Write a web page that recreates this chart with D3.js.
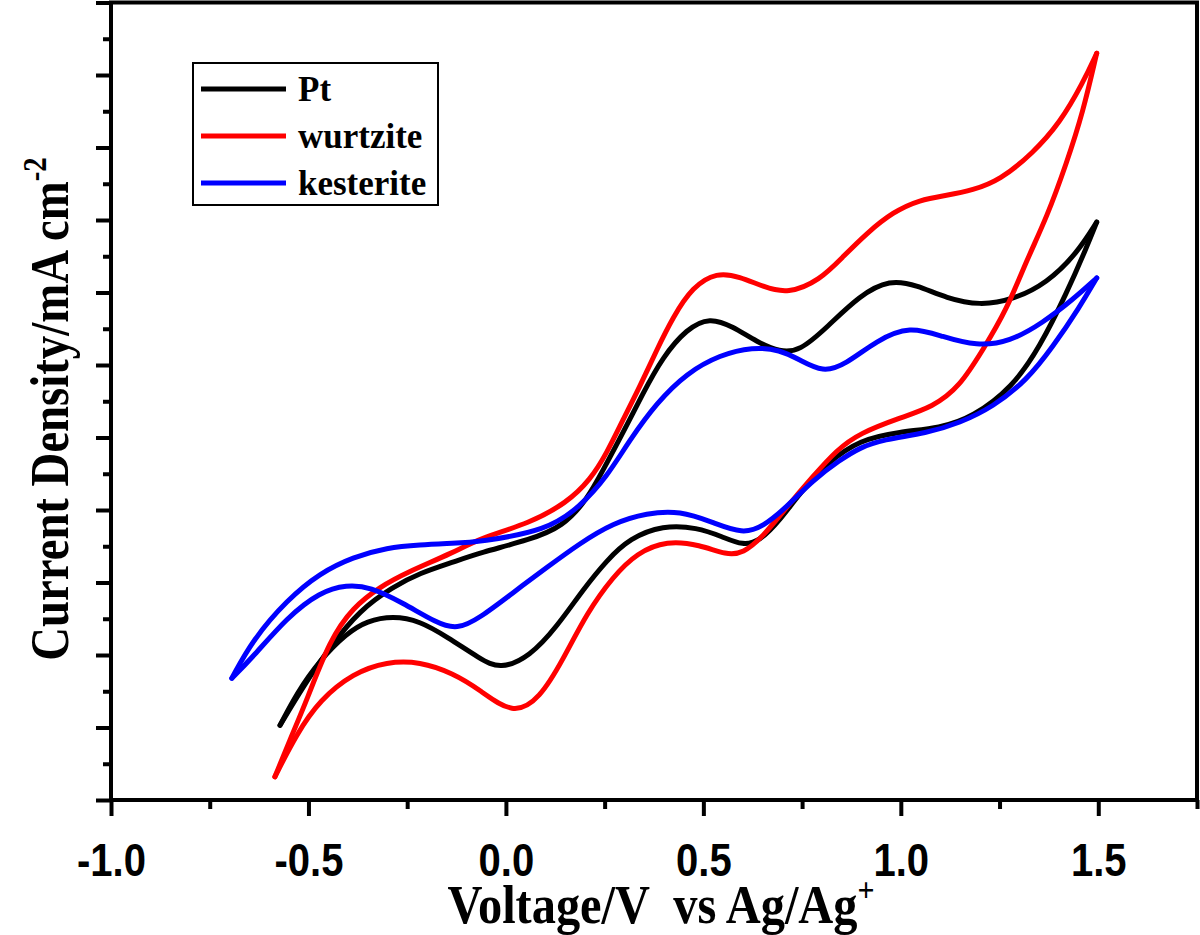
<!DOCTYPE html>
<html>
<head>
<meta charset="utf-8">
<script src="https://cdn.jsdelivr.net/npm/d3@7"></script>
<style>
  body { margin: 0; background: #fff; }
  svg { display: block; }
</style>
</head>
<body>
<div id="chart"></div>
<script>
// ---
// Data: [voltage (V vs Ag/Ag+), current density (arbitrary, one unit per major tick)]
// ---
const seriesNames = ['Pt', 'wurtzite', 'kesterite']

// forward scan (upper branch), left end -> 1.5 V
const ptUpper = [
  [-0.572, 1.03], [-0.514, 1.56], [-0.446, 2.11], [-0.370, 2.62], [-0.286, 2.94],
  [-0.218, 3.13], [-0.134, 3.28], [-0.066, 3.41], [0.061, 3.59], [0.144, 3.77],
  [0.205, 4.14], [0.246, 4.55], [0.296, 5.06], [0.347, 5.61], [0.397, 6.11],
  [0.458, 6.50], [0.516, 6.66], [0.575, 6.53], [0.635, 6.32], [0.694, 6.18],
  [0.744, 6.19], [0.813, 6.52], [0.896, 6.96], [0.972, 7.18], [1.041, 7.10],
  [1.116, 6.92], [1.200, 6.82], [1.284, 6.90], [1.370, 7.13], [1.446, 7.54],
  [1.496, 7.97]
]
// reverse scan (lower branch), 1.5 V -> left end
const ptLower = [
  [1.496, 7.97], [1.471, 7.63], [1.420, 6.99], [1.352, 6.25], [1.284, 5.70],
  [1.182, 5.28], [1.099, 5.13], [0.997, 5.08], [0.896, 4.97], [0.813, 4.65],
  [0.744, 4.23], [0.694, 3.86], [0.643, 3.57], [0.600, 3.51], [0.549, 3.63],
  [0.484, 3.76], [0.397, 3.79], [0.314, 3.61], [0.256, 3.31], [0.195, 2.90],
  [0.129, 2.39], [0.061, 1.98], [-0.015, 1.80], [-0.066, 1.95], [-0.149, 2.25],
  [-0.218, 2.47], [-0.286, 2.54], [-0.352, 2.47], [-0.403, 2.30], [-0.471, 1.93],
  [-0.529, 1.48], [-0.572, 1.03]
]

const wurtziteUpper = [
  [-0.585, 0.32], [-0.547, 0.83], [-0.504, 1.38], [-0.446, 2.21], [-0.387, 2.66],
  [-0.319, 2.94], [-0.251, 3.14], [-0.134, 3.41], [-0.066, 3.61], [0.061, 3.82],
  [0.154, 4.10], [0.213, 4.41], [0.256, 4.79], [0.296, 5.24], [0.339, 5.70],
  [0.382, 6.21], [0.423, 6.66], [0.473, 7.08], [0.534, 7.28], [0.592, 7.22],
  [0.651, 7.08], [0.714, 6.98], [0.795, 7.17], [0.853, 7.49], [0.914, 7.82],
  [0.980, 8.11], [1.048, 8.28], [1.116, 8.34], [1.182, 8.41], [1.251, 8.55],
  [1.334, 8.92], [1.403, 9.34], [1.461, 9.89], [1.496, 10.30]
]
const wurtziteLower = [
  [1.496, 10.30], [1.461, 9.48], [1.420, 8.79], [1.370, 8.04], [1.319, 7.45],
  [1.268, 6.76], [1.208, 6.21], [1.149, 5.70], [1.081, 5.42], [0.997, 5.27],
  [0.896, 5.06], [0.838, 4.83], [0.777, 4.46], [0.711, 4.04], [0.651, 3.63],
  [0.600, 3.40], [0.559, 3.38], [0.491, 3.52], [0.408, 3.58], [0.332, 3.41],
  [0.271, 3.08], [0.205, 2.58], [0.144, 1.93], [0.086, 1.40], [0.018, 1.17],
  [-0.066, 1.52], [-0.134, 1.75], [-0.218, 1.91], [-0.301, 1.91], [-0.387, 1.75],
  [-0.471, 1.38], [-0.529, 0.92], [-0.585, 0.32]
]

const kesteriteUpper = [
  [-0.694, 1.68], [-0.641, 2.21], [-0.554, 2.76], [-0.471, 3.13], [-0.387, 3.35],
  [-0.301, 3.48], [-0.218, 3.52], [-0.134, 3.54], [-0.066, 3.56], [0.104, 3.72],
  [0.187, 4.04], [0.256, 4.46], [0.314, 4.97], [0.382, 5.48], [0.458, 5.89],
  [0.542, 6.14], [0.625, 6.25], [0.694, 6.21], [0.744, 6.07], [0.803, 5.90],
  [0.858, 6.00], [0.939, 6.34], [1.023, 6.54], [1.106, 6.39], [1.192, 6.26],
  [1.276, 6.32], [1.359, 6.58], [1.435, 6.90], [1.496, 7.20]
]
const kesteriteLower = [
  [1.496, 7.20], [1.453, 6.80], [1.385, 6.25], [1.319, 5.79], [1.233, 5.42],
  [1.149, 5.20], [1.066, 5.06], [0.954, 4.97], [0.896, 4.86], [0.846, 4.69],
  [0.777, 4.41], [0.711, 4.04], [0.651, 3.77], [0.600, 3.67], [0.524, 3.83],
  [0.441, 3.99], [0.357, 3.96], [0.271, 3.82], [0.187, 3.54], [0.104, 3.21],
  [0.018, 2.86], [-0.066, 2.51], [-0.124, 2.35], [-0.175, 2.44], [-0.261, 2.72],
  [-0.344, 2.94], [-0.403, 2.97], [-0.471, 2.87], [-0.554, 2.52], [-0.641, 1.97],
  [-0.694, 1.68]
]

const xMajorTicks = [-1.0, -0.5, 0.0, 0.5, 1.0, 1.5]
const xMinorTicks = [-0.75, -0.25, 0.25, 0.75, 1.25, 1.75]
const xTickLabels = ['-1.0', '-0.5', '0.0', '0.5', '1.0', '1.5']
const yMajorTicks = [0, 1, 2, 3, 4, 5, 6, 7, 8, 9, 10, 11]
const yMinorTicks = [0.5, 1.5, 2.5, 3.5, 4.5, 5.5, 6.5, 7.5, 8.5, 9.5, 10.5]

const curves = [
  { name: 'Pt', branches: [ptUpper, ptLower] },
  { name: 'wurtzite', branches: [wurtziteUpper, wurtziteLower] },
  { name: 'kesterite', branches: [kesteriteUpper, kesteriteLower] }
]
const colors = { Pt: '#000000', wurtzite: '#ff0000', kesterite: '#0000ff' }

// ---
// Chart
// ---
const width = 1200
const height = 935
const sansFont = '"Liberation Sans", Arial, sans-serif'
const serifFont = '"Liberation Serif", "Times New Roman", serif'

const xScale = d3.scaleLinear()
  .domain([-1, 1.75])
  .range([111, 1197])

const yScale = d3.scaleLinear()
  .domain([0, 11])
  .range([800, 2.5])

const svg = d3.select('#chart').append('svg')
  .attr('width', width)
  .attr('height', height)

// Curves (smoothed, the traces in the figure have no visible kinks)
const line = d3.line()
  .x(d => xScale(d[0]))
  .y(d => yScale(d[1]))
  .curve(d3.curveBasis)

curves.forEach(c => {
  svg.append('g')
    .selectAll('path')
    .data(c.branches)
    .enter()
      .append('path')
      .attr('d', line)
      .attr('fill', 'none')
      .attr('stroke', colors[c.name])
      .attr('stroke-width', 5)
      .attr('stroke-linecap', 'round')
      .attr('stroke-linejoin', 'round')
})

// Axes
const xAxis = svg.append('g')
  .attr('transform', `translate(0, ${yScale(0)})`)
  .call(d3.axisBottom(xScale)
    .tickValues(xMajorTicks)
    .tickSize(16)
    .tickPadding(27)
    .tickFormat((d, i) => xTickLabels[i]))

xAxis.selectAll('text')
  .attr('font-family', sansFont)
  .attr('font-weight', 'bold')
  .attr('font-size', 46)
  .attr('fill', '#000')
  .attr('transform', 'scale(0.87, 1)')

svg.append('g')
  .attr('transform', `translate(0, ${yScale(0)})`)
  .call(d3.axisBottom(xScale)
    .tickValues(xMinorTicks)
    .tickSize(9)
    .tickFormat(''))

svg.append('g')
  .attr('transform', `translate(${xScale(-1)}, 0)`)
  .call(d3.axisLeft(yScale)
    .tickValues(yMajorTicks)
    .tickSize(15)
    .tickFormat(''))

svg.append('g')
  .attr('transform', `translate(${xScale(-1)}, 0)`)
  .call(d3.axisLeft(yScale)
    .tickValues(yMinorTicks)
    .tickSize(8)
    .tickFormat(''))

svg.selectAll('.domain').remove()
svg.selectAll('.tick line')
  .attr('stroke', '#000')
  .attr('stroke-width', 4)

// Frame
svg.append('rect')
  .attr('x', xScale(-1))
  .attr('y', yScale(11))
  .attr('width', xScale(1.75) - xScale(-1))
  .attr('height', yScale(0) - yScale(11))
  .attr('fill', 'none')
  .attr('stroke', '#000')
  .attr('stroke-width', 4)

// Axis titles
const xTitle = svg.append('text')
  .attr('transform', 'translate(661, 923) scale(0.88, 1)')
  .attr('text-anchor', 'middle')
  .attr('font-family', serifFont)
  .attr('font-weight', 'bold')
  .attr('font-size', 55)
  .style('white-space', 'pre')
xTitle.append('tspan').text('Voltage/V  vs Ag/Ag')
xTitle.append('tspan').attr('dy', -22).attr('font-size', 34).text('+')

const yTitle = svg.append('text')
  .attr('transform', 'translate(68, 409) rotate(-90) scale(0.85, 1)')
  .attr('text-anchor', 'middle')
  .attr('font-family', serifFont)
  .attr('font-weight', 'bold')
  .attr('font-size', 55)
yTitle.append('tspan').text('Current Density/mA cm')
yTitle.append('tspan').attr('dy', -22).attr('font-size', 34).text('-2')

// Legend
const legend = svg.append('g')

legend.append('rect')
  .attr('x', 193)
  .attr('y', 63)
  .attr('width', 245)
  .attr('height', 142)
  .attr('fill', '#fff')
  .attr('stroke', '#000')
  .attr('stroke-width', 2)

const legendItems = legend.selectAll('.item')
    .data(seriesNames)
  .enter()
    .append('g')
    .attr('class', 'item')
    .attr('transform', (d, i) => `translate(0, ${89 + i * 47})`)

legendItems.append('line')
  .attr('x1', 201)
  .attr('x2', 286)
  .attr('stroke', d => colors[d])
  .attr('stroke-width', 5)

legendItems.append('text')
  .attr('x', 298)
  .attr('y', 12)
  .attr('font-family', serifFont)
  .attr('font-weight', 'bold')
  .attr('font-size', 35)
  .text(d => d)
</script>
</body>
</html>
